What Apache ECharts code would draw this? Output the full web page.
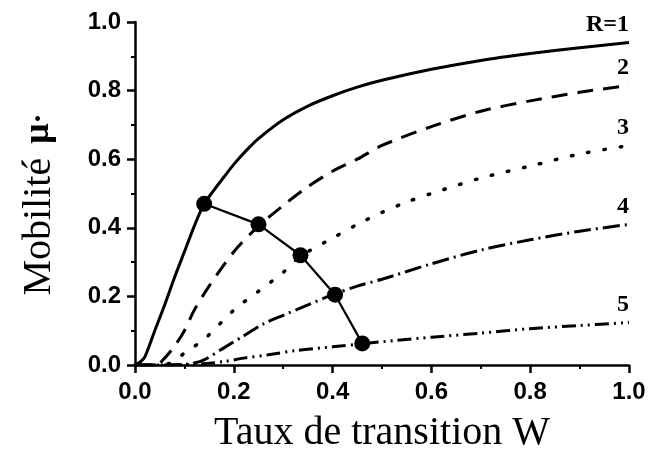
<!DOCTYPE html>
<html>
<head>
<meta charset="utf-8">
<script src="https://cdn.jsdelivr.net/npm/echarts@6/dist/echarts.min.js"></script>
<style>
  html, body { margin: 0; padding: 0; background: #fff; }
  #chart { width: 650px; height: 449px; }
</style>
</head>
<body>
<div id="chart"></div>
<script>
// Mobility mu versus transition rate W, for R = 1..5
const curveNames = ['R=1', '2', '3', '4', '5'];

const r1W  = [0, 0.01, 0.02, 0.04, 0.06, 0.08, 0.10, 0.12, 0.14, 0.16, 0.18, 0.20, 0.225, 0.25, 0.30, 0.35, 0.40, 0.45, 0.50, 0.60, 0.70, 0.80, 0.90, 1.0];
const r1Mu = [0, 0.008, 0.024, 0.10, 0.175, 0.255, 0.33, 0.405, 0.47, 0.51, 0.548, 0.585, 0.625, 0.66, 0.715, 0.755, 0.785, 0.81, 0.83, 0.862, 0.888, 0.908, 0.925, 0.94];

const r2W  = [0, 0.045, 0.06, 0.08, 0.10, 0.12, 0.15, 0.20, 0.25, 0.30, 0.35, 0.40, 0.45, 0.50, 0.60, 0.70, 0.80, 0.90, 1.0];
const r2Mu = [0, 0.002, 0.02, 0.055, 0.10, 0.16, 0.23, 0.33, 0.405, 0.465, 0.52, 0.565, 0.60, 0.64, 0.695, 0.74, 0.77, 0.795, 0.815];

const r3W  = [0, 0.06, 0.08, 0.10, 0.14, 0.20, 0.25, 0.30, 0.333, 0.40, 0.45, 0.50, 0.55, 0.60, 0.70, 0.80, 0.90, 1.0];
const r3Mu = [0, 0.001, 0.012, 0.035, 0.075, 0.16, 0.215, 0.27, 0.315, 0.37, 0.41, 0.445, 0.475, 0.50, 0.545, 0.58, 0.615, 0.64];

const r4W  = [0, 0.09, 0.12, 0.14, 0.18, 0.22, 0.26, 0.30, 0.35, 0.40, 0.45, 0.50, 0.60, 0.70, 0.80, 0.90, 1.0];
const r4Mu = [0, 0.001, 0.006, 0.015, 0.05, 0.085, 0.12, 0.145, 0.175, 0.205, 0.23, 0.25, 0.295, 0.335, 0.365, 0.39, 0.41];

const r5W  = [0, 0.10, 0.14, 0.18, 0.22, 0.27, 0.33, 0.40, 0.46, 0.53, 0.60, 0.70, 0.80, 0.90, 1.0];
const r5Mu = [0, 0.001, 0.004, 0.01, 0.02, 0.03, 0.043, 0.053, 0.062, 0.072, 0.081, 0.093, 0.106, 0.115, 0.124];

// Transition points linking the curves
const transW  = [0.14, 0.25, 0.335, 0.405, 0.46];
const transMu = [0.47, 0.41, 0.32, 0.205, 0.063];

const xTicks = [0, 0.2, 0.4, 0.6, 0.8, 1.0];

const curves = [
  { w: r1W, mu: r1Mu, type: 'solid', cap: 'butt', width: 3 },
  { w: r2W, mu: r2Mu, type: [16, 10], cap: 'butt', width: 3 },
  { w: r3W, mu: r3Mu, type: [1.5, 15], cap: 'round', width: 3.5 },
  { w: r4W, mu: r4Mu, type: [17, 5, 2, 5], cap: 'butt', width: 3 },
  { w: r5W, mu: r5Mu, type: [14, 5, 2, 5, 2, 5], cap: 'butt', width: 3 }
];

function pairs(xs, ys) { return xs.map((x, i) => [x, ys[i]]); }

const series = curves.map((c, k) => {
  const data = pairs(c.w, c.mu).map((p, i, arr) => {
    if (i !== arr.length - 1) return { value: p, symbolSize: 0 };
    // curve name written above the end of each curve
    return {
      value: p,
      symbolSize: 1,
      label: {
        show: true,
        formatter: curveNames[k],
        position: 'top',
        align: 'right',
        distance: 5,
        color: '#000',
        fontFamily: 'Liberation Serif',
        fontWeight: 'bold',
        fontSize: 24
      }
    };
  });
  return {
    type: 'line',
    data: data,
    smooth: 0.3,
    showSymbol: true,
    symbol: 'circle',
    itemStyle: { color: 'rgba(0,0,0,0)' },
    silent: true,
    lineStyle: { color: '#000', width: c.width, type: c.type, cap: c.cap },
    z: 2
  };
});

series.push({
  type: 'line',
  data: pairs(transW, transMu),
  symbol: 'circle',
  symbolSize: 16,
  showSymbol: true,
  itemStyle: { color: '#000' },
  lineStyle: { color: '#000', width: 2.2 },
  silent: true,
  z: 5
});

const chart = echarts.init(document.getElementById('chart'), null, { renderer: 'canvas' });
chart.setOption({
  animation: false,
  backgroundColor: '#fff',
  grid: { left: 135, right: 21, top: 22, bottom: 84, containLabel: false, outerBoundsMode: 'none' },
  xAxis: {
    type: 'value',
    min: 0, max: 1, interval: 0.2,
    name: 'Taux de transition W',
    nameLocation: 'middle',
    nameGap: 48,
    nameTextStyle: { fontFamily: 'Liberation Serif', fontSize: 40, color: '#000' },
    axisLine: { show: true, lineStyle: { color: '#000', width: 2.5 } },
    axisTick: { show: true, inside: false, length: 8, lineStyle: { color: '#000', width: 2.5 } },
    minorTick: { show: true, splitNumber: 2, length: 4, lineStyle: { color: '#000', width: 2 } },
    splitLine: { show: false },
    axisLabel: {
      margin: 15,
      color: '#000',
      fontFamily: 'Liberation Sans',
      fontWeight: 'bold',
      fontSize: 24,
      formatter: v => xTicks.some(t => Math.abs(t - v) < 1e-9) ? v.toFixed(1) : ''
    }
  },
  yAxis: {
    type: 'value',
    min: 0, max: 1, interval: 0.2,
    name: '{m|Mobilité}{u|μ}{s|·}',
    nameLocation: 'middle',
    nameRotate: 90,
    nameGap: 76,
    nameTextStyle: {
      color: '#000',
      rich: {
        m: { fontFamily: 'Liberation Serif', fontSize: 40, color: '#000', padding: [0, 14, 0, 0] },
        u: { fontFamily: 'Liberation Serif', fontWeight: 'bold', fontSize: 36, color: '#000' },
        s: { fontFamily: 'Liberation Serif', fontWeight: 'bold', fontSize: 30, color: '#000', padding: [0, 22, 0, 0] }
      }
    },
    axisLine: { show: true, lineStyle: { color: '#000', width: 2.5 } },
    axisTick: { show: true, inside: false, length: 8, lineStyle: { color: '#000', width: 2.5 } },
    minorTick: { show: true, splitNumber: 2, length: 4, lineStyle: { color: '#000', width: 2 } },
    splitLine: { show: false },
    axisLabel: {
      margin: 14,
      color: '#000',
      fontFamily: 'Liberation Sans',
      fontWeight: 'bold',
      fontSize: 24,
      formatter: v => v.toFixed(1)
    }
  },
  series: series
});
</script>
</body>
</html>
